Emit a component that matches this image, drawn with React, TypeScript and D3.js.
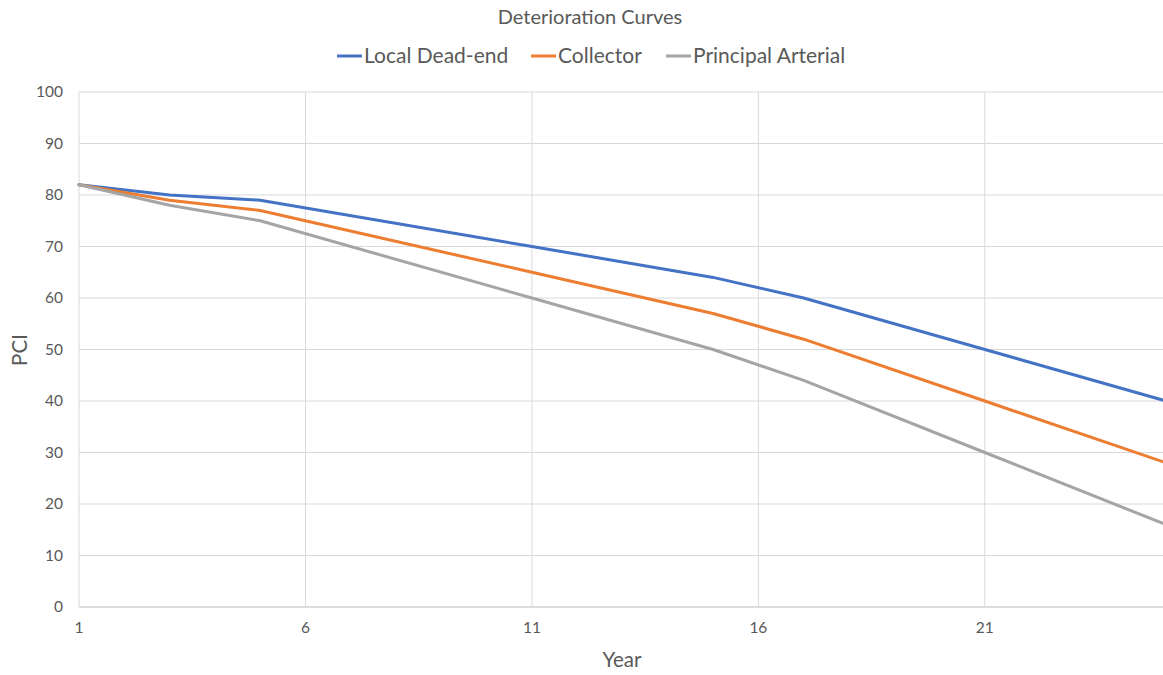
import * as d3 from "d3";
import {useEffect, useRef} from "react";

const years = [1, 3, 5, 11, 15, 17, 21, 25];
const localDeadEnd = [82, 80, 79, 70, 64, 60, 50, 40];
const collector = [82, 79, 77, 65, 57, 52, 40, 28];
const principalArterial = [82, 78, 75, 60, 50, 44, 30, 16];
const yTicks = [0, 10, 20, 30, 40, 50, 60, 70, 80, 90, 100];
const xTicks = [1, 6, 11, 16, 21];

const series = [
    {name: "Local Dead-end", values: localDeadEnd, color: "#4472C4"},
    {name: "Collector", values: collector, color: "#ED7D31"},
    {name: "Principal Arterial", values: principalArterial, color: "#A5A5A5"},
];

export default function App() {
    const ref = useRef<SVGSVGElement>(null);

    const width = 1163;
    const height = 675;
    const margin = {top: 92, right: -3, bottom: 68, left: 79};

    useEffect(() => {
        if (!ref.current) return;
        const font = "Lato, 'Open Sans', sans-serif";
        const svg = d3.select(ref.current);
        svg.selectAll("*").remove();

        const x = d3.scaleLinear()
            .domain([1, 25])
            .range([margin.left, width - margin.right]);
        const y = d3.scaleLinear()
            .domain([0, 100])
            .range([height - margin.bottom, margin.top]);

        // horizontal grid
        svg.append("g")
            .selectAll("line")
            .data(yTicks)
            .join("line")
            .attr("x1", margin.left)
            .attr("x2", width)
            .attr("y1", d => y(d))
            .attr("y2", d => y(d))
            .attr("stroke", d => d === 0 ? "#d0d0d0" : "#d9d9d9")
            .attr("stroke-width", d => d === 0 ? 1.5 : 1);

        // vertical grid
        svg.append("g")
            .selectAll("line")
            .data(xTicks)
            .join("line")
            .attr("x1", d => x(d))
            .attr("x2", d => x(d))
            .attr("y1", y(100))
            .attr("y2", y(0))
            .attr("stroke", "#d9d9d9")
            .attr("stroke-width", 1);

        svg.append("g")
            .selectAll("text")
            .data(yTicks)
            .join("text")
            .attr("x", margin.left - 16)
            .attr("y", d => y(d))
            .attr("dy", "0.35em")
            .attr("text-anchor", "end")
            .attr("font-family", font)
            .attr("font-size", 15.5)
            .attr("fill", "#595959")
            .text(d => d);

        svg.append("g")
            .selectAll("text")
            .data(xTicks)
            .join("text")
            .attr("x", d => x(d))
            .attr("y", y(0) + 26)
            .attr("text-anchor", "middle")
            .attr("font-family", font)
            .attr("font-size", 15.5)
            .attr("fill", "#595959")
            .text(d => d);

        const line = d3.line<number>()
            .x((_, i) => x(years[i]))
            .y(d => y(d));

        svg.append("g")
            .selectAll("path")
            .data(series)
            .join("path")
            .attr("d", d => line(d.values))
            .attr("fill", "none")
            .attr("stroke", d => d.color)
            .attr("stroke-width", 3)
            .attr("stroke-linejoin", "round")
            .attr("stroke-linecap", "round");

        svg.append("text")
            .attr("x", 590)
            .attr("y", 24)
            .attr("text-anchor", "middle")
            .attr("font-family", font)
            .attr("font-size", 20)
            .attr("fill", "#595959")
            .text("Deterioration Curves");

        // legend
        const legendX = [337, 531, 666];
        const legend = svg.append("g")
            .selectAll("g")
            .data(series)
            .join("g")
            .attr("transform", (_, i) => `translate(${legendX[i]},56)`);
        legend.append("line")
            .attr("x1", 0)
            .attr("x2", 25)
            .attr("stroke", d => d.color)
            .attr("stroke-width", 3);
        legend.append("text")
            .attr("x", 27)
            .attr("dy", "0.35em")
            .attr("font-family", font)
            .attr("font-size", 21)
            .attr("fill", "#595959")
            .text(d => d.name);

        svg.append("text")
            .attr("x", 622)
            .attr("y", 667)
            .attr("text-anchor", "middle")
            .attr("font-family", font)
            .attr("font-size", 20.5)
            .attr("fill", "#595959")
            .text("Year");

        svg.append("text")
            .attr("transform", "translate(27,350) rotate(-90)")
            .attr("text-anchor", "middle")
            .attr("font-family", font)
            .attr("font-size", 20.5)
            .attr("fill", "#595959")
            .text("PCI");
    }, []);

    return (
        <svg ref={ref} width={width} height={height}
             style={{position: "absolute", top: 0, left: 0, background: "#fff"}}/>
    );
}
